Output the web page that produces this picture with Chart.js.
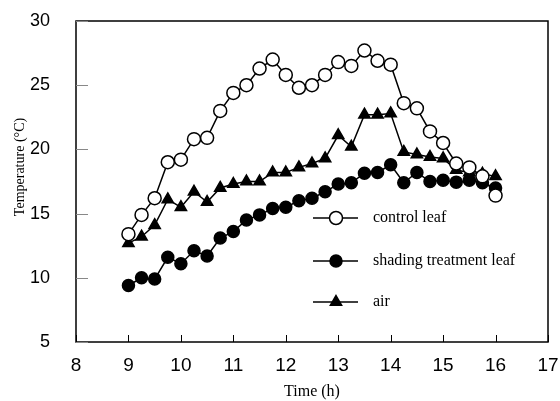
<!DOCTYPE html>
<html>
<head>
<meta charset="utf-8">
<script src="https://cdn.jsdelivr.net/npm/chart.js@4/dist/chart.umd.min.js"></script>
<style>
  html, body { margin: 0; padding: 0; background: #fff; }
  #wrap { width: 560px; height: 401px; }
</style>
</head>
<body>
<div id="wrap"><canvas id="tempChart" width="560" height="401"></canvas></div>
<script>
// time of day (h)
const times = [9, 9.25, 9.5, 9.75, 10, 10.25, 10.5, 10.75, 11, 11.25, 11.5, 11.75, 12, 12.25, 12.5,
               12.75, 13, 13.25, 13.5, 13.75, 14, 14.25, 14.5, 14.75, 15, 15.25, 15.5, 15.75, 16];

const controlLeaf = [13.4, 14.9, 16.2, 19.0, 19.2, 20.8, 20.9, 23.0, 24.4, 25.0, 26.3, 27.0, 25.8, 24.8, 25.0,
                     25.8, 26.8, 26.5, 27.7, 26.9, 26.6, 23.6, 23.2, 21.4, 20.5, 18.9, 18.6, 17.9, 16.4];
const shadingLeaf = [9.4, 10.0, 9.9, 11.6, 11.1, 12.1, 11.7, 13.1, 13.6, 14.5, 14.9, 15.4, 15.5, 16.0, 16.2,
                     16.7, 17.3, 17.4, 18.15, 18.2, 18.8, 17.4, 18.2, 17.5, 17.6, 17.45, 17.6, 17.4, 17.0];
const airTemp = [12.7, 13.2, 14.1, 16.1, 15.5, 16.7, 15.9, 17.0, 17.3, 17.5, 17.5, 18.2, 18.2, 18.6, 18.9,
                 19.3, 21.1, 20.2, 22.7, 22.7, 22.8, 19.8, 19.6, 19.4, 19.3, 18.4, 18.2, 18.1, 17.9];

const seriesNames = ['control leaf', 'shading treatment leaf', 'air'];
const xTicks = [8, 9, 10, 11, 12, 13, 14, 15, 16, 17];
const yTicks = [5, 10, 15, 20, 25, 30];

const serif = '"Liberation Serif", "Times New Roman", serif';
const sans = '"Liberation Sans", Arial, sans-serif';

function toPoints(values) {
    return values.map((v, i) => ({ x: times[i], y: v }));
}

function markPoint(ctx, style, fill, x, y, r) {
    ctx.save();
    ctx.lineWidth = 1.5;
    ctx.strokeStyle = '#000';
    ctx.fillStyle = fill;
    ctx.beginPath();
    if (style === 'triangle') {
        for (let k = 0; k < 3; k++) {
            const a = k * 2 * Math.PI / 3;
            const px = x + Math.sin(a) * r, py = y - Math.cos(a) * r;
            k === 0 ? ctx.moveTo(px, py) : ctx.lineTo(px, py);
        }
        ctx.closePath();
    } else {
        ctx.arc(x, y, r, 0, Math.PI * 2);
    }
    ctx.fill();
    ctx.stroke();
    ctx.restore();
}

// frame, inward ticks, y title and the legend box
const decorations = {
    id: 'decorations',
    afterDraw(chart) {
        const { ctx, chartArea: a, scales } = chart;
        ctx.save();
        ctx.strokeStyle = '#000';
        ctx.lineWidth = 1.5;
        ctx.strokeRect(a.left, a.top, a.right - a.left, a.bottom - a.top);

        ctx.lineWidth = 1;
        xTicks.forEach(t => {
            const px = Math.round(scales.x.getPixelForValue(t)) + 0.5;
            ctx.beginPath();
            ctx.moveTo(px, a.bottom);
            ctx.lineTo(px, a.bottom - 7);
            ctx.stroke();
        });
        ctx.strokeStyle = '#888';
        yTicks.forEach(t => {
            const py = Math.round(scales.y.getPixelForValue(t)) + 0.5;
            ctx.beginPath();
            ctx.moveTo(a.left, py);
            ctx.lineTo(a.left + 12, py);
            ctx.stroke();
        });

        ctx.fillStyle = '#000';
        ctx.font = '14px ' + serif;
        ctx.textAlign = 'center';
        ctx.textBaseline = 'middle';
        ctx.translate(20, 167);
        ctx.rotate(-Math.PI / 2);
        ctx.fillText('Temperature (°C)', 0, 0);
        ctx.restore();

        // legend
        const rows = [218, 261, 302];
        chart.data.datasets.forEach((ds, i) => {
            const y = rows[i];
            ctx.save();
            ctx.strokeStyle = '#000';
            ctx.lineWidth = 1.5;
            ctx.beginPath();
            ctx.moveTo(313, y);
            ctx.lineTo(358, y);
            ctx.stroke();
            ctx.restore();
            markPoint(ctx, ds.pointStyle, ds.pointBackgroundColor, 336, y, ds.pointRadius);
            ctx.save();
            ctx.fillStyle = '#000';
            ctx.font = '16px ' + serif;
            ctx.textAlign = 'left';
            ctx.textBaseline = 'middle';
            ctx.fillText(ds.label, 373, y);
            ctx.restore();
        });
    }
};

const makeSet = (label, values, style, fill, r) => ({
    label,
    data: toPoints(values),
    borderColor: '#000',
    borderWidth: 1.5,
    pointStyle: style,
    pointRadius: r,
    pointBorderWidth: 1.5,
    pointBorderColor: '#000',
    pointBackgroundColor: fill,
    tension: 0,
    fill: false
});

new Chart(document.getElementById('tempChart'), {
    type: 'line',
    data: {
        datasets: [
            makeSet(seriesNames[0], controlLeaf, 'circle', '#fff', 6.5),
            makeSet(seriesNames[1], shadingLeaf, 'circle', '#000', 6),
            makeSet(seriesNames[2], airTemp, 'triangle', '#000', 6.5)
        ]
    },
    options: {
        responsive: false,
        animation: false,
        layout: { padding: { top: 21, right: 12, left: 0, bottom: 0 } },
        plugins: { legend: { display: false }, tooltip: { enabled: false } },
        scales: {
            x: {
                type: 'linear',
                min: 8,
                max: 17,
                afterBuildTicks: s => { s.ticks = xTicks.map(v => ({ value: v })); },
                afterFit: s => { s.height = 59; s.paddingLeft = 0; s.paddingRight = 0; },
                grid: { display: false, drawTicks: false },
                border: { display: false },
                ticks: { color: '#000', font: { family: sans, size: 19 }, padding: 12, maxRotation: 0 },
                title: { display: true, text: 'Time (h)', color: '#000', font: { family: serif, size: 16 }, padding: 0 }
            },
            y: {
                min: 5,
                max: 30,
                afterBuildTicks: s => { s.ticks = yTicks.map(v => ({ value: v })); },
                afterFit: s => { s.width = 76; s.paddingTop = 0; s.paddingBottom = 0; },
                grid: { display: false, drawTicks: false },
                border: { display: false },
                ticks: { color: '#000', font: { family: '"Liberation Sans Narrow", ' + sans, size: 18 }, padding: 26 }
            }
        }
    },
    plugins: [decorations]
});
</script>
</body>
</html>
